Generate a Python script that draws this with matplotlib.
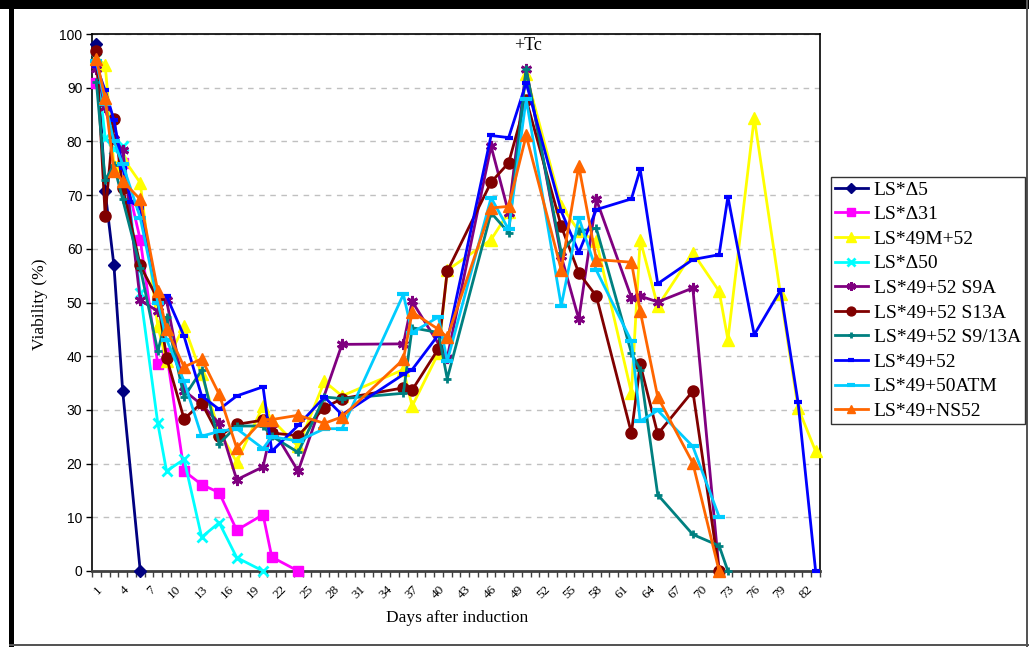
import matplotlib
matplotlib.use('Agg')
import matplotlib.pyplot as plt
from matplotlib.patches import Rectangle

# ---------------- data ----------------
series_names = ["LS*Δ5", "LS*Δ31", "LS*49M+52", "LS*Δ50", "LS*49+52 S9A",
                "LS*49+52 S13A", "LS*49+52 S9/13A", "LS*49+52", "LS*49+50ATM", "LS*49+NS52"]

days_d5 = [1, 2, 3, 4, 6]
vals_d5 = [98.2, 70.7, 56.9, 33.5, 0.0]

days_d31 = [1, 4, 6, 8, 9, 11, 13, 15, 17, 20, 21, 24]
vals_d31 = [90.9, 75.9, 61.7, 38.5, 40.6, 18.6, 16.1, 14.6, 7.6, 10.5, 2.6, 0.0]

days_m52 = [1, 2, 3, 4, 6, 8, 9, 11, 13, 15, 17, 20, 21, 24, 27, 29, 36, 37, 40, 41,
            46, 48, 50, 54, 56, 58, 62, 63, 65, 69, 72, 73, 76, 79, 81, 83]
vals_m52 = [95.5, 94.3, 75.5, 77.0, 72.3, 45.6, 39.1, 45.6, 36.6, 26.0, 20.3, 30.7, 28.2, 23.2,
            35.3, 32.6, 37.5, 30.7, 40.6, 56.0, 61.7, 66.8, 92.5, 68.0, 63.3, 61.4, 33.2, 61.7,
            49.3, 59.3, 52.1, 43.1, 84.4, 51.5, 30.4, 22.3]

days_d50 = [1, 2, 3, 4, 6, 8, 9, 11, 13, 15, 17, 20]
vals_d50 = [95.5, 80.7, 78.5, 79.1, 51.8, 27.5, 18.6, 20.8, 6.3, 9.0, 2.5, 0.0]

days_s9a = [1, 2, 3, 4, 6, 8, 9, 11, 13, 15, 17, 20, 21, 24, 29, 36, 37, 41,
            46, 48, 50, 54, 56, 58, 62, 63, 65, 69, 72]
vals_s9a = [93.5, 86.4, 80.4, 78.4, 50.4, 48.4, 50.4, 33.6, 31.0, 27.5, 17.0, 19.4, 26.7, 18.6,
            42.2, 42.3, 50.2, 39.7, 79.1, 66.7, 93.5, 58.6, 46.9, 69.2, 50.9, 51.2, 50.1, 52.7, 0.0]

days_s13a = [1, 2, 3, 4, 6, 8, 9, 11, 13, 15, 17, 20, 21, 24, 27, 29, 36, 37, 40, 41,
             46, 48, 50, 54, 56, 58, 62, 63, 65, 69, 72]
vals_s13a = [96.8, 66.2, 84.2, 71.4, 56.9, 50.6, 39.7, 28.3, 31.3, 25.1, 27.3, 28.1, 25.7, 25.2,
             30.4, 32.1, 34.1, 33.7, 41.4, 55.8, 72.4, 76.0, 87.8, 64.2, 55.5, 51.2, 25.7, 38.5,
             25.5, 33.5, 0.0]

days_s913a = [1, 2, 3, 4, 6, 8, 9, 11, 13, 15, 17, 20, 21, 24, 27, 29, 36, 37, 40, 41,
              46, 48, 50, 54, 56, 58, 62, 63, 65, 69, 72, 73]
vals_s913a = [91.0, 72.8, 75.6, 69.2, 56.5, 40.9, 47.3, 32.4, 37.4, 23.7, 27.0, 27.0, 25.1, 22.1,
              32.4, 32.1, 33.1, 45.3, 44.4, 35.8, 66.7, 63.0, 93.4, 59.3, 63.3, 63.8, 40.6, 37.5,
              14.2, 6.8, 4.7, 0.0]

days_s52 = [1, 2, 3, 4, 5, 6, 8, 9, 11, 13, 15, 17, 20, 21, 24, 27, 29, 36, 37, 40, 41,
            46, 48, 50, 54, 56, 58, 62, 63, 65, 69, 72, 73, 76, 79, 81, 83]
vals_s52 = [94.0, 89.5, 84.0, 75.0, 68.7, 67.6, 51.5, 51.2, 43.7, 32.6, 30.1, 32.6, 34.3, 22.3,
            27.1, 32.4, 29.1, 36.6, 37.5, 44.0, 42.8, 81.1, 80.7, 90.9, 67.0, 59.3, 67.3, 69.3,
            74.8, 53.5, 58.0, 58.9, 69.7, 44.0, 52.3, 31.4, 0.0]

days_atm = [1, 2, 3, 4, 6, 8, 9, 11, 13, 15, 17, 20, 21, 24, 27, 29, 36, 37, 40, 41,
            46, 48, 50, 54, 56, 58, 62, 63, 65, 69, 72]
vals_atm = [95.0, 87.0, 80.0, 75.7, 65.8, 50.0, 43.1, 35.3, 25.1, 26.0, 26.5, 22.8, 25.0, 24.2,
            26.5, 26.5, 51.5, 44.4, 47.3, 39.1, 69.5, 63.6, 87.9, 49.4, 65.8, 56.0, 42.8, 27.9,
            29.9, 23.2, 10.1]

days_ns52 = [1, 2, 3, 4, 6, 8, 9, 11, 13, 15, 17, 20, 21, 24, 27, 29, 36, 37, 40, 41,
             46, 48, 50, 54, 56, 58, 62, 63, 65, 69, 72]
vals_ns52 = [95.3, 88.1, 74.5, 72.6, 69.2, 52.1, 45.0, 38.0, 39.5, 32.9, 22.9, 28.2, 28.2, 29.0,
             27.5, 28.7, 39.4, 48.2, 45.0, 43.5, 67.6, 67.9, 81.1, 56.1, 75.4, 58.0, 57.5, 48.4,
             32.4, 20.1, 0.0]

x_tick_labels = [str(d) for d in range(1, 83, 3)]
y_ticks = list(range(0, 101, 10))
n_days = 83

# ---------------- styles ----------------
all_days = [days_d5, days_d31, days_m52, days_d50, days_s9a, days_s13a,
            days_s913a, days_s52, days_atm, days_ns52]
all_vals = [vals_d5, vals_d31, vals_m52, vals_d50, vals_s9a, vals_s13a,
            vals_s913a, vals_s52, vals_atm, vals_ns52]
styles = [
    dict(color='#000080', marker='D', ms=6),
    dict(color='#FF00FF', marker='s', ms=7),
    dict(color='#FFFF00', marker='^', ms=9),
    dict(color='#00FFFF', marker='x', ms=7, mew=2),
    dict(color='#800080', marker=(6, 2, 0), ms=8, mew=2),
    dict(color='#800000', marker='o', ms=8),
    dict(color='#008080', marker='+', ms=6, mew=2),
    dict(color='#0000FF', marker='_', ms=6, mew=3),
    dict(color='#00CCFF', marker='_', ms=8, mew=3),
    dict(color='#FF6600', marker='^', ms=8),
]

SERIF = ['Liberation Serif', 'DejaVu Serif']
SANS = ['Liberation Sans', 'DejaVu Sans']

W, H = 1029, 647
fig = plt.figure(figsize=(W / 100, H / 100), dpi=100)
fig.patch.set_facecolor('white')

L, R, T, B = 92, 820, 34, 571
ax = fig.add_axes([L / W, 1 - B / H, (R - L) / W, (B - T) / H])

for d, v, st, name in zip(all_days, all_vals, styles, series_names):
    ax.plot(d, v, label=name, linewidth=2.0, color=st['color'], marker=st['marker'],
            markersize=st['ms'], markeredgewidth=st.get('mew', 1),
            markerfacecolor=st['color'], markeredgecolor=st['color'], clip_on=False, zorder=3)

ax.set_xlim(0.5, n_days + 0.5)
ax.set_ylim(0, 100)

# y axis
ax.set_yticks(y_ticks)
ax.set_yticklabels([str(t) for t in y_ticks], fontfamily=SANS, fontsize=10)
ax.tick_params(axis='y', direction='out', length=4, width=1, pad=3)
ax.yaxis.grid(True, color='#C0C0C0', linestyle=(0, (4, 4)), linewidth=1)
ax.set_axisbelow(True)

# x axis
ax.set_xticks([int(s) for s in x_tick_labels])
ax.set_xticklabels(x_tick_labels, rotation=45, ha='right', rotation_mode='anchor',
                   fontfamily=SERIF, fontsize=9.5)
ax.tick_params(axis='x', which='major', length=0, pad=9)
ax.set_xticks([k + 0.5 for k in range(0, n_days + 1)], minor=True)
ax.tick_params(axis='x', which='minor', direction='out', length=4, width=1, color='#404040')

for s in ['top', 'right', 'left']:
    ax.spines[s].set_color('black')
    ax.spines[s].set_linewidth(1.2)
ax.spines['bottom'].set_color('#404040')
ax.spines['bottom'].set_linewidth(2)

ax.text(50.2, 97.9, '+Tc', ha='center', va='center', fontfamily=SERIF, fontsize=13)

fig.text(40 / W, 1 - 304 / H, 'Viability (%)', rotation=90, ha='center', va='center',
         fontfamily=SERIF, fontsize=12.5)
fig.text(457 / W, 1 - 618 / H, 'Days after induction', ha='center', va='center',
         fontfamily=SERIF, fontsize=12.5)

leg = fig.legend(loc='upper left', bbox_to_anchor=(831 / W, 1 - 177 / H),
                 bbox_transform=fig.transFigure, borderaxespad=0,
                 prop={'family': SERIF, 'size': 14}, frameon=True, fancybox=False,
                 edgecolor='black', handlelength=1.7, handletextpad=0.3,
                 labelspacing=0.36, borderpad=0.2, markerscale=0.8)
leg.get_frame().set_linewidth(1)

# outer frame decorations
fig.add_artist(Rectangle((0, 1 - 9 / H), 1, 9 / H, transform=fig.transFigure,
                         facecolor='black', edgecolor='none'))
fig.add_artist(Rectangle((9 / W, 0), 5 / W, 1, transform=fig.transFigure,
                         facecolor='black', edgecolor='none'))
fig.add_artist(Rectangle((1026 / W, 0), 2 / W, 1, transform=fig.transFigure,
                         facecolor='#555555', edgecolor='none'))
fig.add_artist(Rectangle((9 / W, 1 / H), 1 - 9 / W, 2 / H, transform=fig.transFigure,
                         facecolor='#555555', edgecolor='none'))

fig.savefig('out.png', dpi=100)
